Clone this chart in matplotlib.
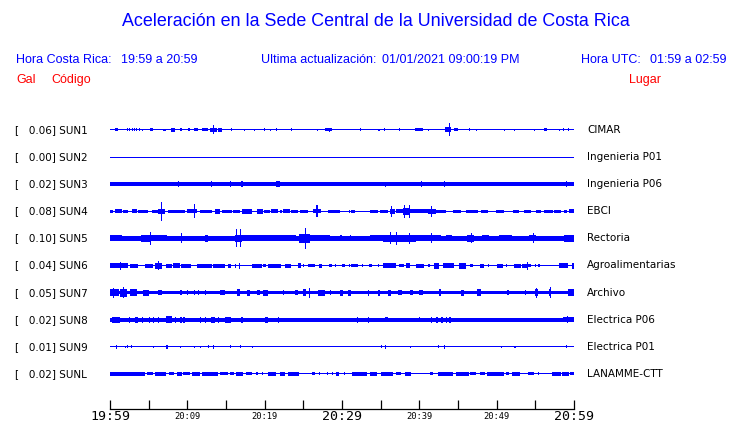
import matplotlib
matplotlib.use("Agg")
import matplotlib.pyplot as plt
import numpy as np
from matplotlib.transforms import blended_transform_factory

W, H = 740, 423
BLUE = "#0000ff"
RED = "#ff0000"
PX = 27.1  # pixels between two traces

STATIONS = ["SUN1", "SUN2", "SUN3", "SUN4", "SUN5", "SUN6", "SUN7", "SUN8", "SUN9", "SUNL"]
PEAK_GAL = [0.06, 0.00, 0.02, 0.08, 0.10, 0.04, 0.05, 0.02, 0.01, 0.02]
PLACES = ["CIMAR", "Ingenieria P01", "Ingenieria P06", "EBCI", "Rectoria",
          "Agroalimentarias", "Archivo", "Electrica P06", "Electrica P01", "LANAMME-CTT"]

# half thickness (px) of the quiet trace
BASE_HALF = [0.5, 0.5, 2.0, 0.5, 2.2, 0.5, 1.8, 2.0, 0.5, 0.5]

# bursts: (start minute, end minute, half amplitude in px)
SUN1_BURSTS = [
    (0.6, 1.0, 1.5), (2.2, 2.2, 1.5), (2.5, 2.5, 1.5), (2.8, 2.8, 1.5), (3.1, 3.1, 1.5),
    (3.4, 3.4, 1.5), (3.7, 3.7, 1.5), (4.1, 4.1, 1.2), (5.2, 5.6, 1.5), (6.9, 6.9, 1.2),
    (7.1, 7.1, 1.2), (7.9, 8.4, 2.3), (9.1, 9.1, 1.5), (10.1, 10.4, 1.5), (10.9, 11.4, 1.5),
    (11.9, 12.7, 1.5), (12.9, 13.8, 2.0), (13.3, 13.3, 4.5), (14.0, 14.5, 2.0), (15.6, 15.6, 1.5),
    (17.3, 17.3, 1.0), (18.6, 18.6, 1.0), (19.9, 19.9, 1.5), (20.7, 20.7, 1.0), (21.5, 21.5, 1.5),
    (23.4, 23.4, 1.5), (26.8, 26.8, 1.0), (27.8, 28.7, 1.5), (28.3, 28.3, 2.0), (32.3, 32.3, 1.5),
    (34.7, 34.7, 1.0), (35.4, 35.6, 1.5), (37.4, 37.4, 1.5), (39.4, 40.5, 1.5), (41.1, 41.1, 1.0),
    (43.3, 44.1, 2.5), (43.8, 43.8, 6.5), (44.5, 45.0, 1.5), (46.4, 46.4, 1.5), (47.3, 47.3, 1.0),
    (50.9, 50.9, 1.0), (52.2, 52.2, 1.0), (54.8, 54.8, 1.0), (56.1, 56.5, 1.5), (58.1, 58.1, 1.0),
    (58.6, 58.6, 1.5), (59.2, 59.2, 1.5),
]
SUN2_BURSTS = []
SUN3_BURSTS = [
    (8.8, 8.8, 3.0), (13.1, 13.1, 3.0), (15.5, 15.5, 3.0), (17.0, 17.0, 3.0), (21.5, 22.0, 3.0),
    (35.6, 35.6, 2.5), (40.2, 40.2, 3.0), (43.2, 43.2, 3.0), (58.5, 60.0, 2.3), (59.0, 59.0, 3.0),
]
SUN4_BURSTS = [
    (0.0, 0.4, 1.7), (0.6, 1.5, 2.0), (1.7, 2.3, 1.5), (2.8, 3.5, 2.0), (3.6, 4.9, 1.5),
    (5.4, 6.2, 1.5), (6.2, 7.1, 2.5), (6.6, 6.6, 9.5), (7.5, 9.7, 1.5), (10.0, 11.3, 2.0),
    (10.9, 10.9, 7.0), (11.6, 13.2, 1.5), (13.6, 14.2, 2.5), (14.5, 15.8, 1.5), (15.9, 16.8, 1.5),
    (17.1, 18.4, 2.5), (19.0, 19.8, 2.5), (19.9, 20.7, 1.5), (20.8, 21.7, 2.0), (22.0, 22.2, 1.5),
    (22.4, 23.3, 2.0), (23.4, 24.3, 1.5), (24.6, 25.6, 1.5), (26.2, 27.3, 2.0), (26.7, 26.7, 6.0),
    (28.2, 29.7, 1.5), (30.9, 30.9, 1.5), (31.2, 31.7, 1.5), (33.6, 34.7, 1.5), (34.9, 36.0, 1.5),
    (36.2, 36.9, 2.5), (36.3, 36.3, 5.5), (37.0, 40.5, 2.0), (37.9, 38.8, 3.5), (38.0, 38.0, 6.5),
    (38.6, 38.6, 6.5), (40.5, 41.1, 2.0), (41.1, 42.2, 2.5), (41.5, 41.5, 5.5), (42.2, 43.4, 1.5),
    (44.4, 45.4, 1.5), (46.0, 47.6, 1.5), (48.0, 48.9, 1.5), (49.9, 50.9, 1.5), (52.1, 52.9, 1.5),
    (53.5, 54.4, 1.5), (55.1, 55.7, 1.5), (56.1, 57.3, 1.5), (57.4, 58.3, 1.5), (58.7, 59.1, 1.5),
    (59.4, 60.0, 2.0),
]
SUN5_BURSTS = [
    (0.0, 1.6, 3.0), (1.8, 4.0, 2.7), (4.0, 5.3, 3.8), (5.2, 5.2, 6.7), (5.3, 7.4, 3.0),
    (7.4, 9.9, 2.7), (9.2, 9.2, 5.0), (9.9, 12.4, 2.7), (12.3, 12.7, 3.5), (12.7, 15.3, 2.7),
    (16.2, 17.1, 3.8), (16.3, 16.3, 9.0), (16.8, 16.8, 9.0), (17.1, 19.8, 3.0),
    (19.8, 24.1, 3.0), (24.5, 25.8, 4.2), (25.2, 25.2, 10.5), (25.8, 28.4, 3.0), (29.8, 29.8, 3.0),
    (31.0, 31.0, 3.0), (33.6, 35.3, 3.0), (35.3, 39.6, 3.8), (36.2, 36.2, 6.0), (37.0, 37.0, 6.5),
    (38.6, 38.6, 5.5), (39.6, 40.5, 3.0), (40.2, 42.8, 3.0), (41.5, 41.5, 5.0),
    (43.5, 44.2, 3.0), (46.2, 47.1, 3.5), (46.7, 46.7, 5.0), (48.1, 49.0, 3.0), (50.3, 52.0, 3.0),
    (54.2, 55.1, 3.0), (54.7, 54.7, 5.0), (55.8, 56.6, 2.8), (58.7, 60.0, 3.2),
]
SUN6_BURSTS = [
    (0.0, 0.9, 2.5), (0.9, 2.3, 2.5), (1.3, 1.3, 4.0), (2.6, 3.6, 2.0), (4.5, 5.6, 2.0),
    (5.8, 6.7, 3.0), (6.2, 6.2, 4.5), (7.2, 8.0, 2.0), (8.1, 9.1, 2.5), (9.2, 10.5, 2.0),
    (11.2, 13.2, 2.0), (13.3, 14.9, 2.0), (15.3, 15.7, 2.0), (16.1, 16.1, 2.0), (16.7, 16.7, 3.0),
    (18.4, 19.7, 2.0), (19.8, 20.2, 1.5), (20.4, 22.1, 2.0), (22.6, 23.4, 2.0), (24.3, 24.7, 2.5),
    (25.0, 25.0, 1.5), (25.6, 26.5, 1.5), (27.0, 27.4, 2.0), (28.3, 28.7, 1.5), (29.1, 29.1, 1.5),
    (30.0, 30.4, 1.5), (30.9, 31.0, 1.5), (31.2, 32.1, 1.5), (32.6, 32.6, 1.5), (33.5, 33.9, 1.5),
    (34.6, 34.8, 1.5), (35.3, 37.0, 2.5), (37.4, 38.0, 1.5), (38.3, 38.8, 2.5), (39.6, 40.3, 2.0),
    (40.2, 40.6, 2.0), (41.1, 41.4, 1.5), (41.9, 42.5, 3.0), (43.1, 44.5, 2.5), (45.1, 46.0, 3.0),
    (46.6, 47.0, 1.5), (47.9, 48.3, 2.0), (48.9, 48.9, 1.5), (50.0, 50.8, 2.0), (51.2, 51.4, 1.5),
    (52.2, 53.1, 2.0), (53.3, 53.9, 2.0), (53.9, 53.9, 4.0), (54.1, 54.5, 1.5), (55.0, 55.0, 1.5),
    (55.4, 55.6, 1.5), (58.1, 59.2, 2.5), (59.7, 60.0, 3.0),
]
SUN7_BURSTS = [
    (0.0, 1.1, 3.5), (0.4, 0.4, 5.0), (1.3, 2.2, 4.0), (1.7, 1.7, 5.5), (2.6, 3.5, 3.5),
    (4.3, 5.0, 3.0), (6.2, 6.7, 2.5), (9.1, 9.1, 2.8), (9.9, 9.9, 2.8), (10.8, 10.8, 2.8),
    (11.4, 11.4, 2.8), (12.3, 12.3, 2.8), (14.2, 14.9, 2.8), (16.4, 16.8, 3.5), (17.7, 18.1, 3.0),
    (19.0, 19.4, 2.8), (19.8, 20.4, 3.0), (22.4, 22.4, 2.8), (23.9, 24.3, 2.8), (25.0, 25.4, 3.5),
    (25.7, 25.7, 5.0), (26.9, 27.8, 3.0), (28.4, 28.4, 2.8), (29.7, 30.1, 3.0), (30.8, 31.2, 3.0),
    (33.4, 33.4, 3.0), (34.7, 34.7, 3.0), (35.9, 36.4, 3.0), (37.2, 37.7, 2.8), (38.8, 39.2, 2.8),
    (40.0, 40.5, 2.8), (42.6, 42.6, 3.5), (45.4, 45.8, 3.0), (47.5, 48.0, 3.5), (51.4, 51.4, 2.8),
    (53.6, 53.6, 2.8), (54.9, 55.3, 3.5), (55.1, 55.1, 5.0), (56.8, 57.0, 3.5), (56.9, 56.9, 5.5),
    (59.2, 60.0, 3.5),
]
SUN8_BURSTS = [
    (0.2, 1.3, 3.0), (2.4, 2.4, 3.0), (3.2, 3.6, 3.0), (4.1, 4.1, 3.0), (5.0, 5.0, 3.0),
    (5.6, 5.6, 3.0), (6.2, 6.2, 3.0), (7.3, 8.0, 3.5), (8.4, 8.4, 3.0), (9.1, 9.1, 3.0),
    (9.5, 9.5, 3.0), (11.6, 11.6, 3.0), (12.3, 12.3, 3.0), (13.1, 13.6, 3.0), (14.0, 14.0, 3.0),
    (14.9, 15.7, 3.0), (17.0, 17.0, 3.0), (20.0, 20.4, 3.0), (21.7, 21.7, 3.0), (31.9, 31.9, 3.0),
    (33.4, 33.4, 3.0), (35.5, 35.9, 2.5), (40.0, 40.0, 2.5), (41.5, 41.5, 3.0), (42.2, 42.2, 3.0),
    (42.8, 43.0, 3.0), (43.4, 43.4, 3.0), (43.9, 43.9, 3.0), (58.6, 60.0, 2.4), (59.1, 59.1, 3.5),
]
SUN9_BURSTS = [
    (0.8, 0.8, 2.0), (1.9, 1.9, 1.2), (2.2, 2.2, 1.5), (2.7, 2.7, 1.5), (5.5, 5.5, 1.2),
    (7.3, 7.5, 2.0), (9.0, 9.0, 1.2), (10.8, 10.8, 1.2), (11.6, 11.6, 1.2), (12.7, 12.7, 1.5),
    (13.3, 13.4, 2.0), (15.5, 15.5, 1.5), (16.8, 16.8, 1.5), (18.4, 18.4, 1.2), (35.0, 35.0, 1.5),
    (35.5, 35.5, 2.0), (38.8, 38.8, 1.2), (42.4, 42.6, 1.5), (43.2, 43.2, 1.8), (50.6, 50.6, 1.2),
    (52.3, 52.3, 1.2), (59.0, 59.0, 1.5),
]
SUNL_BURSTS = [
    (0.0, 4.5, 1.7), (4.8, 5.5, 1.5), (5.8, 7.3, 1.7), (7.6, 8.3, 1.5), (8.6, 9.3, 1.7),
    (9.5, 10.3, 1.5), (10.6, 11.6, 1.7), (11.9, 14.0, 1.7), (14.2, 15.2, 1.5), (15.5, 16.0, 1.5),
    (16.3, 17.2, 1.7), (17.6, 18.3, 1.5), (18.9, 19.2, 1.5), (19.6, 19.8, 1.5), (20.4, 21.5, 1.7),
    (22.0, 22.6, 2.0), (23.0, 24.4, 1.7), (26.1, 26.5, 1.5), (27.0, 27.0, 1.5), (28.1, 28.1, 1.5),
    (28.7, 28.7, 1.5), (29.2, 29.6, 1.7), (30.3, 30.3, 1.5), (31.3, 33.2, 1.7), (33.6, 34.5, 1.7),
    (35.1, 36.6, 1.7), (37.0, 37.6, 1.5), (38.1, 38.9, 1.7), (41.4, 41.8, 1.5), (42.4, 44.3, 1.7),
    (44.7, 46.4, 1.7), (46.6, 47.3, 1.5), (47.9, 48.5, 1.5), (48.7, 51.0, 1.7), (51.2, 51.6, 1.5),
    (52.0, 53.0, 1.7), (54.1, 54.8, 1.5), (55.3, 55.3, 1.5), (57.2, 58.3, 1.7), (58.5, 59.3, 1.7),
    (59.5, 60.0, 1.5),
]
BURSTS = [SUN1_BURSTS, SUN2_BURSTS, SUN3_BURSTS, SUN4_BURSTS, SUN5_BURSTS,
          SUN6_BURSTS, SUN7_BURSTS, SUN8_BURSTS, SUN9_BURSTS, SUNL_BURSTS]

MAJOR_MIN = [0, 30, 60]
MAJOR_LABELS = ["19:59", "20:29", "20:59"]
MINOR_MIN = [5, 10, 15, 20, 25, 35, 40, 45, 50, 55]
MINOR_LABELS = ["", "20:09", "", "20:19", "", "", "20:39", "", "20:49", ""]

TITLE = "Aceleración en la Sede Central de la Universidad de Costa Rica"


def fx(x):
    return x / W


def fy(y):
    return 1 - y / H


fig = plt.figure(figsize=(W / 100, H / 100), dpi=100)
fig.patch.set_facecolor("white")

# trace area: x 110..574 px, y 115..409 px, first trace at y=130
ax = fig.add_axes([fx(110), fy(409), (574 - 110) / W, (409 - 115) / H])
ax.set_xlim(0, 60)
ax.set_ylim((409 - 130) / PX, -(130 - 115) / PX)

for i, bursts in enumerate(BURSTS):
    b = BASE_HALF[i] / PX
    ax.barh(i, 60, height=2 * b, left=0, color=BLUE, linewidth=0)
    if not bursts:
        continue
    arr = np.array(bursts, dtype=float)
    t0, t1, h = arr[:, 0], arr[:, 1], arr[:, 2] / PX
    width = np.maximum(t1 - t0, 0.15)
    ax.bar(t0, 2 * h, width=width, bottom=i - h, align="edge", color=BLUE, linewidth=0)

for s in ["top", "left", "right"]:
    ax.spines[s].set_visible(False)
ax.spines["bottom"].set_linewidth(0.9)
ax.set_yticks([])
ax.set_xticks(MAJOR_MIN)
ax.set_xticklabels(MAJOR_LABELS, family="DejaVu Sans Mono", fontsize=9.5)
ax.set_xticks(MINOR_MIN, minor=True)
ax.set_xticklabels(MINOR_LABELS, minor=True, family="DejaVu Sans Mono", fontsize=6.3)
ax.tick_params(axis="x", which="both", direction="in", length=6.5, width=0.9, pad=1)
ax.tick_params(axis="x", which="minor", pad=2.5)

tr = blended_transform_factory(fig.transFigure, ax.transData)
for i, code in enumerate(STATIONS):
    ax.text(fx(15), i, f"[{PEAK_GAL[i]:7.2f}] {code}", transform=tr, va="center",
            ha="left", fontsize=7.5, family="DejaVu Sans", color="black")
    ax.text(fx(587), i, PLACES[i], transform=tr, va="center", ha="left",
            fontsize=7.5, family="DejaVu Sans", color="black")

hdr = dict(family="Liberation Sans", color=BLUE, va="center")
fig.text(fx(376), fy(22), TITLE, ha="center", fontsize=12.9, **hdr)
fig.text(fx(16), fy(60), "Hora Costa Rica:", ha="left", fontsize=9, **hdr)
fig.text(fx(121), fy(60), "19:59 a 20:59", ha="left", fontsize=9, **hdr)
fig.text(fx(261), fy(60), "Ultima actualización:", ha="left", fontsize=9, **hdr)
fig.text(fx(382), fy(60), "01/01/2021 09:00:19 PM", ha="left", fontsize=9, **hdr)
fig.text(fx(581), fy(60), "Hora UTC:", ha="left", fontsize=9, **hdr)
fig.text(fx(726), fy(60), "01:59 a 02:59", ha="right", fontsize=9, **hdr)

red = dict(family="Liberation Sans", color=RED, va="center", fontsize=9)
fig.text(fx(16), fy(80), "Gal", ha="left", **red)
fig.text(fx(51), fy(80), "Código", ha="left", **red)
fig.text(fx(629), fy(80), "Lugar", ha="left", **red)

fig.savefig("out.png", dpi=100, facecolor="white")
